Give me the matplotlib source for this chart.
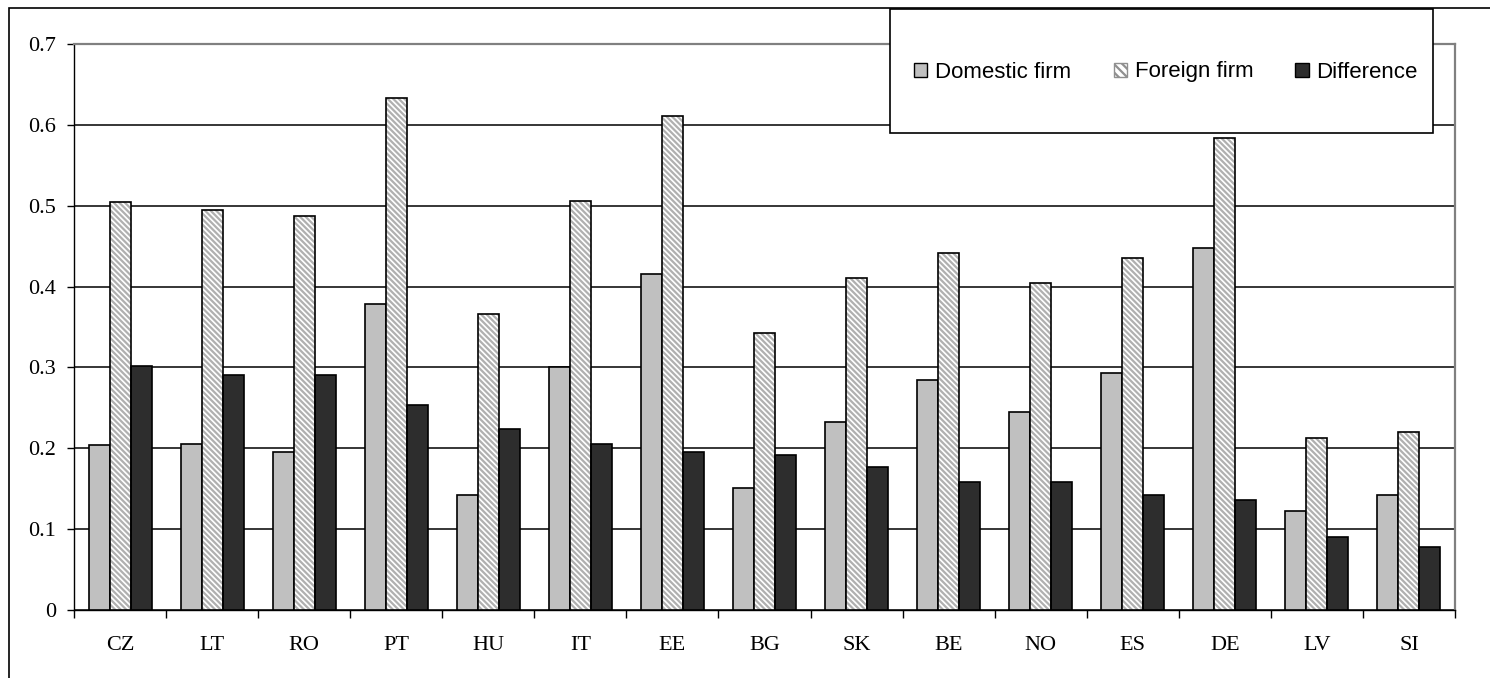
import matplotlib
matplotlib.use('Agg')
import matplotlib.pyplot as plt
from matplotlib.patches import Rectangle, Patch
import numpy as np

plt.rcParams.update({
    'font.size': 16,
    'hatch.linewidth': 1.6,
})

countries = ['CZ', 'LT', 'RO', 'PT', 'HU', 'IT', 'EE', 'BG', 'SK', 'BE', 'NO', 'ES', 'DE', 'LV', 'SI']
domestic = [0.204, 0.205, 0.196, 0.379, 0.142, 0.300, 0.415, 0.151, 0.233, 0.284, 0.245, 0.293, 0.448, 0.123, 0.142]
foreign = [0.504, 0.495, 0.487, 0.633, 0.366, 0.506, 0.611, 0.342, 0.410, 0.442, 0.405, 0.435, 0.584, 0.213, 0.220]
difference = [0.302, 0.291, 0.291, 0.254, 0.224, 0.205, 0.196, 0.192, 0.177, 0.158, 0.158, 0.142, 0.136, 0.090, 0.078]

W, H = 1490, 678
fig = plt.figure(figsize=(W / 100, H / 100), dpi=100)
fig.patch.set_facecolor('white')
ax = fig.add_axes([74 / W, 1 - 610 / H, (1455 - 74) / W, (610 - 44) / H])

x = np.arange(len(countries))
w = 0.228
# domestic
ax.bar(x - w, domestic, w, color='#c0c0c0', edgecolor='black', linewidth=1.2, zorder=3)
# foreign: hatched fill in grey, black outline drawn on top
ax.bar(x, foreign, w, color='white', edgecolor='#b0b0b0', hatch='\\\\\\\\\\\\', linewidth=0, zorder=3)
ax.bar(x, foreign, w, fill=False, edgecolor='black', linewidth=1.2, zorder=4)
# difference
ax.bar(x + w, difference, w, color='#2d2d2d', edgecolor='black', linewidth=1.2, zorder=3)

ax.set_xlim(-0.5, len(countries) - 0.5)
ax.set_ylim(0, 0.7)
ax.set_yticks(np.arange(0, 0.71, 0.1))
ax.set_yticklabels(['0'] + [f'{v:.1f}' for v in np.arange(0.1, 0.71, 0.1)],
                   family='Liberation Serif', fontsize=16)
ax.yaxis.grid(True, color='black', linewidth=1.1, zorder=0)
ax.set_axisbelow(True)

ax.set_xticks(x)
ax.set_xticklabels(countries, family='Liberation Serif', fontsize=16)
ax.set_xticks(np.arange(-0.5, len(countries), 1.0), minor=True)
ax.tick_params(axis='x', which='major', length=0, pad=19)
ax.tick_params(axis='x', which='minor', length=6, width=1.0, direction='out')
ax.tick_params(axis='y', length=5, width=1.0, pad=8)

for s in ['left', 'bottom']:
    ax.spines[s].set_color('black')
    ax.spines[s].set_linewidth(1.0)
for s in ['top', 'right']:
    ax.spines[s].set_color('#808080')
    ax.spines[s].set_linewidth(1.6)

# outer chart frame
fig.add_artist(Rectangle((9 / W, -0.01), 1.02, 1 - 8 / H + 0.01, transform=fig.transFigure,
                         fill=False, edgecolor='black', linewidth=1.2))

# legend box
fig.add_artist(Rectangle((890 / W, 1 - 133 / H), (1433 - 890) / W, (133 - 9) / H,
                         transform=fig.transFigure, facecolor='white', edgecolor='black',
                         linewidth=1.2, zorder=5))
handles = [
    Patch(facecolor='#c0c0c0', edgecolor='black', linewidth=1.0),
    Patch(facecolor='white', edgecolor='#909090', hatch='\\\\\\\\', linewidth=1.0),
    Patch(facecolor='#2d2d2d', edgecolor='black', linewidth=1.0),
]
leg = fig.legend(handles, ['Domestic firm', 'Foreign firm', 'Difference'], ncol=3,
                 loc='center', bbox_to_anchor=(1166 / W, 1 - 72 / H), frameon=False,
                 prop={'family': 'Liberation Sans', 'size': 16},
                 handlelength=0.6, handleheight=0.6, handletextpad=0.35, columnspacing=1.9)
leg.set_zorder(6)

fig.savefig('out.png', dpi=100)
